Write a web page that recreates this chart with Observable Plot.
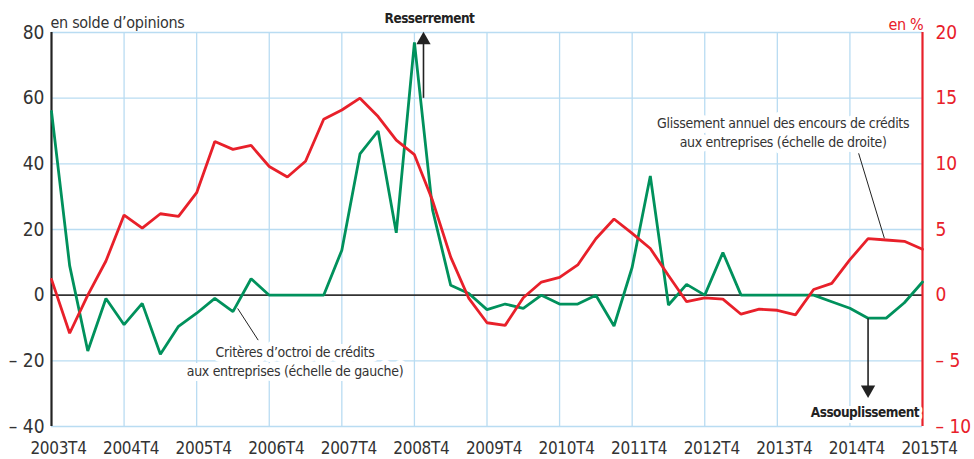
<!DOCTYPE html>
<html>
<head>
<meta charset="utf-8">
<script src="https://cdn.jsdelivr.net/npm/d3@7"></script>
<script src="https://cdn.jsdelivr.net/npm/@observablehq/plot@0.6"></script>
<style>
  html, body { margin: 0; padding: 0; background: #fff; }
  #chart svg { display: block; }
</style>
</head>
<body>
<div id="chart"></div>
<script>
// Quarterly index 0 = 2003T4 ... 48 = 2015T4
const yearLabels = ["2003T4","2004T4","2005T4","2006T4","2007T4","2008T4","2009T4","2010T4","2011T4","2012T4","2013T4","2014T4","2015T4"];
const leftTicks = [-40, -20, 0, 20, 40, 60, 80];
const rightTicks = [-10, -5, 0, 5, 10, 15, 20];

// Critères d'octroi de crédits aux entreprises (solde d'opinions, échelle de gauche)
const criteres = [56, 9, -17, -1, -9, -2.5, -18, -9.5, -5.5, -1, -5, 5,
  0, 0, 0, 0, 13.7, 43, 50, 19, 77, 26, 3, 0.5,
  -4.4, -2.7, -4, 0, -2.7, -2.7, 0, -9.4, 8.5, 36.3, -3, 3.3,
  0, 13, 0, 0, 0, 0, 0, -2, -4, -7, -7, -2.3, 4];

// Glissement annuel des encours de crédits aux entreprises (en %, échelle de droite)
const glissement = [1.2, -2.9, 0, 2.6, 6.1, 5.1, 6.2, 6.0, 7.8, 11.7, 11.1, 11.4,
  9.8, 9.0, 10.2, 13.4, 14.1, 15.0, 13.6, 11.8, 10.7, 7.2, 2.9, -0.25,
  -2.1, -2.3, -0.2, 1.0, 1.35, 2.3, 4.3, 5.8, 4.7, 3.55, 1.5, -0.5,
  -0.2, -0.3, -1.45, -1.07, -1.15, -1.5, 0.43, 0.9, 2.7, 4.3, 4.2, 4.1, 3.5];

const ratio = 4; // 5 % on the right = 20 points on the left

const greenLabel = "Critères d’octroi de crédits\naux entreprises (échelle de gauche)";
const redLabel = "Glissement annuel des encours de crédits\naux entreprises (échelle de droite)";
const leftTitle = "en solde d’opinions";
const rightTitle = "en %";
const upText = "Resserrement";
const downText = "Assouplissement";

const green = "#00915c";
const red = "#e8202a";
const grid = "#b9dcf2";
const ink = "#333333";
const font = "'Liberation Sans Narrow', 'Arial Narrow', 'DejaVu Sans Condensed', 'Roboto', sans-serif";

const fmt = v => v < 0 ? "– " + (-v) : String(v);
const quarterTicks = yearLabels.map((_, k) => k * 4);

const chart = Plot.plot({
  width: 974,
  height: 459,
  marginLeft: 51,
  marginRight: 52,
  marginTop: 32,
  marginBottom: 33,
  style: {fontFamily: font, background: "#fff", overflow: "visible", letterSpacing: "-0.3px"},
  x: {domain: [0, 48]},
  y: {domain: [-40, 80]},
  marks: [
    Plot.gridX(quarterTicks.slice(1, -1), {stroke: grid, strokeOpacity: 1, strokeWidth: 1.3}),
    Plot.gridY(leftTicks.filter(d => d !== 0), {stroke: grid, strokeOpacity: 1, strokeWidth: 1.3}),
    Plot.ruleY([0], {stroke: ink, strokeWidth: 1.6}),
    // labels with white background
    Plot.text([greenLabel], {x: 13.42, y: -19.9, text: d => d, fontSize: 14, fill: ink,
      stroke: "white", strokeWidth: 10, lineHeight: 1.38, textAnchor: "middle"}),
    Plot.text([redLabel], {x: 40.32, y: 49.9, text: d => d, fontSize: 14, fill: ink,
      stroke: "white", strokeWidth: 10, lineHeight: 1.38, textAnchor: "middle"}),
    // leader lines
    Plot.link([0], {x1: 10.26, y1: -4.05, x2: 11.39, y2: -13.7, stroke: "#222", strokeWidth: 1}),
    Plot.link([0], {x1: 44.48, y1: 43.2, x2: 45.9, y2: 17.3, stroke: "#222", strokeWidth: 1}),
    // axes lines
    Plot.ruleX([0], {stroke: "#222", strokeWidth: 2.2}),
    Plot.ruleX([48], {stroke: red, strokeWidth: 2.2}),
    Plot.axisX(quarterTicks, {tickFormat: i => yearLabels[i / 4], tickSize: 0, tickPadding: 15,
      fontSize: 17, dx: 7, fill: ink, label: null}),
    Plot.axisY(leftTicks, {anchor: "left", tickFormat: fmt, tickSize: 0, tickPadding: 7,
      fontSize: 19, fill: ink, label: null}),
    Plot.axisY(rightTicks.map(v => v * ratio), {anchor: "right", tickFormat: v => fmt(v / ratio),
      tickSize: 0, tickPadding: 13, fontSize: 19, fill: red, label: null}),
    // series
    Plot.line(criteres, {x: (d, i) => i, y: d => d, stroke: green, strokeWidth: 2.8, strokeLinejoin: "miter"}),
    Plot.line(glissement, {x: (d, i) => i, y: d => d * ratio, stroke: red, strokeWidth: 2.8, strokeLinejoin: "miter"}),
    // arrows
    Plot.link([0], {x1: 20.5, y1: 60.1, x2: 20.5, y2: 76.5, stroke: "#222", strokeWidth: 1.6}),
    Plot.dot([0], {x: 20.5, y: 77.7, symbol: "triangle", r: 5.3, fill: "#222", stroke: "none"}),
    Plot.link([0], {x1: 45, y1: -7, x2: 45, y2: -27.7, stroke: "#222", strokeWidth: 1.6}),
    Plot.dot([0], {x: 45, y: -28.8, symbol: "triangle", r: 5.3, fill: "#222", stroke: "none", rotate: 180}),
    Plot.text([upText], {x: 20.83, y: 84.1, text: d => d, fontSize: 13.5, fontWeight: "bold", fill: "#222"}),
    Plot.text([downText], {x: 44.83, y: -35.9, text: d => d, fontSize: 13.5, fontWeight: "bold", fill: "#222",
      stroke: "white", strokeWidth: 6}),
    // unit titles
    Plot.text([leftTitle], {frameAnchor: "top-left", text: d => d, dx: -1, dy: -15.5, textAnchor: "start",
      fontSize: 16, fill: ink}),
    Plot.text([rightTitle], {frameAnchor: "top-right", text: d => d, dx: 1, dy: -14, textAnchor: "end",
      fontSize: 16, fill: red})
  ]
});
d3.select(chart).selectAll("g[font-weight='bold']").style("letter-spacing", "-0.5px");
d3.select(chart).selectAll("g[aria-label='y-axis tick label']").style("letter-spacing", "0px");
document.getElementById("chart").appendChild(chart);
</script>
</body>
</html>
